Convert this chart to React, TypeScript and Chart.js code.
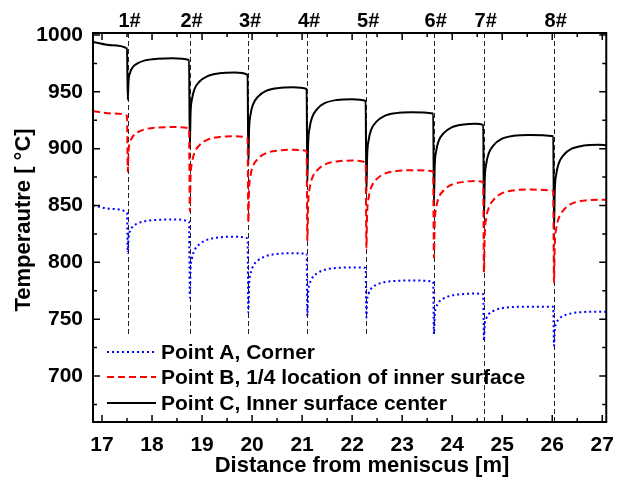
import { useEffect, useRef } from "react";
import { Chart, registerables } from "chart.js";

Chart.register(...registerables);

const distance = [
  16.82, 17.2, 17.5,
  17.515, 17.53, 17.56, 17.61, 17.71, 17.86, 18.11, 18.41, 18.74,
  18.755, 18.77, 18.8, 18.85, 18.95, 19.1, 19.35, 19.65, 19.91,
  19.925, 19.94, 19.97, 20.02, 20.12, 20.27, 20.52, 20.82, 21.09,
  21.105, 21.12, 21.15, 21.2, 21.3, 21.45, 21.7, 22.0, 22.27,
  22.285, 22.3, 22.33, 22.38, 22.48, 22.63, 22.88, 23.18, 23.62,
  23.635, 23.65, 23.68, 23.73, 23.83, 23.98, 24.23, 24.45, 24.62,
  24.635, 24.65, 24.68, 24.73, 24.83, 24.98, 25.23, 25.53, 26.02,
  26.035, 26.05, 26.08, 26.13, 26.23, 26.38, 26.63, 26.93, 27.08,
];

const pointA = [
  850, 847, 843.6,
  808.5, 821.6, 827.5, 831.3, 834.2, 836.2, 837.4, 837.7, 836,
  769, 793.1, 803.8, 810.7, 816.1, 819.8, 822, 822.5, 821,
  756, 779.4, 789.8, 796.6, 801.8, 805.4, 807.5, 808, 807.5,
  753, 772.1, 780.6, 786.2, 790.4, 793.4, 795.1, 795.5, 795,
  751.5, 766.1, 772.6, 776.9, 780.1, 782.4, 783.7, 784, 783,
  737, 753, 760.1, 764.7, 768.2, 770.7, 772.1, 772.5, 772,
  731, 744.5, 750.5, 754.4, 757.4, 759.5, 760.7, 761, 761,
  726.6, 740.1, 746.1, 750, 753, 755.1, 756.3, 756.6, 756.6,
];

const pointB = [
  933, 931, 929,
  880, 897.6, 905.4, 910.4, 914.3, 917.1, 918.6, 919, 918,
  845, 874.7, 887.9, 896.5, 903.1, 907.7, 910.3, 911, 909,
  835, 863.8, 876.6, 884.9, 891.3, 895.8, 898.4, 899, 898,
  819, 850.7, 864.8, 874, 881, 886, 888.8, 889.5, 888,
  812, 843, 856.9, 865.8, 872.7, 877.6, 880.3, 881, 880,
  804, 834.4, 847.9, 856.7, 863.4, 868.1, 870.8, 871.5, 871,
  791, 823.9, 838.5, 847.9, 855.2, 860.4, 863.3, 864, 863,
  782, 814.9, 829.5, 838.9, 846.2, 851.4, 854.3, 855, 855,
];

const pointC = [
  994, 991, 988,
  943, 959.4, 966.7, 971.5, 975.1, 977.7, 979.1, 979.5, 978,
  901, 930.7, 943.9, 952.5, 959.1, 963.7, 966.3, 967, 965,
  886, 916.6, 930.2, 939, 945.8, 950.6, 953.3, 954, 952.5,
  871, 903.7, 918.2, 927.6, 934.9, 940, 942.9, 943.6, 942,
  862, 893.5, 907.5, 916.6, 923.6, 928.5, 931.3, 932, 931,
  853, 884, 897.9, 906.8, 913.7, 918.6, 921.3, 922, 921,
  839, 871.9, 886.5, 895.9, 903.2, 908.4, 911.3, 912, 911,
  829, 862.5, 877.4, 887.1, 894.6, 899.8, 902.8, 903.5, 903,
];

const seriesLabels = [
  "Point A, Corner",
  "Point B, 1/4 location of inner surface",
  "Point C, Inner surface center",
];

const markerPositions = [17.51, 18.75, 19.92, 21.1, 22.28, 23.63, 24.63, 26.03];
const markerLabels = ["1#", "2#", "3#", "4#", "5#", "6#", "7#", "8#"];
const markerLineBottoms = [735, 735, 735, 735, 735, 735, 659.5, 659.5];

const xTickValues = [17, 18, 19, 20, 21, 22, 23, 24, 25, 26, 27];
const yTickValues = [700, 750, 800, 850, 900, 950, 1000];

const X_MIN = 16.82;
const X_MAX = 27.08;
const Y_MIN = 659.5;
const Y_MAX = 1001.8;

const FONT = '"Liberation Sans", Arial, sans-serif';

const toPoints = (ys: number[]) => ys.map((y, i) => ({ x: distance[i], y }));

const decorPlugin = {
  id: "decor",
  beforeDatasetsDraw(chart: any) {
    const { ctx, chartArea, scales } = chart;
    const { x, y } = scales;
    ctx.save();
    ctx.strokeStyle = "#222";
    ctx.lineWidth = 1;
    ctx.setLineDash([5, 3]);
    markerPositions.forEach((m, i) => {
      const px = Math.round(x.getPixelForValue(m)) + 0.5;
      ctx.beginPath();
      ctx.moveTo(px, chartArea.top);
      ctx.lineTo(px, y.getPixelForValue(markerLineBottoms[i]));
      ctx.stroke();
    });
    ctx.restore();
  },
  afterDraw(chart: any) {
    const { ctx, chartArea, scales } = chart;
    const { left, right, top, bottom } = chartArea;
    const { x, y } = scales;
    ctx.save();
    ctx.setLineDash([]);
    ctx.strokeStyle = "#000";

    // ticks (inward, all four sides)
    ctx.lineWidth = 1.5;
    const majorLen = 7;
    const minorLen = 4;
    const xMinor: number[] = [];
    for (let i = 0; i < xTickValues.length - 1; i++) xMinor.push((xTickValues[i] + xTickValues[i + 1]) / 2);
    const yMinor: number[] = [675];
    for (let i = 0; i < yTickValues.length - 1; i++) yMinor.push((yTickValues[i] + yTickValues[i + 1]) / 2);
    const drawX = (v: number, len: number) => {
      const px = x.getPixelForValue(v);
      ctx.beginPath();
      ctx.moveTo(px, bottom);
      ctx.lineTo(px, bottom - len);
      ctx.moveTo(px, top);
      ctx.lineTo(px, top + len);
      ctx.stroke();
    };
    const drawY = (v: number, len: number) => {
      const py = y.getPixelForValue(v);
      ctx.beginPath();
      ctx.moveTo(left, py);
      ctx.lineTo(left + len, py);
      ctx.moveTo(right, py);
      ctx.lineTo(right - len, py);
      ctx.stroke();
    };
    xTickValues.forEach((v) => drawX(v, majorLen));
    xMinor.forEach((v) => drawX(v, minorLen));
    yTickValues.forEach((v) => drawY(v, majorLen));
    yMinor.forEach((v) => drawY(v, minorLen));

    // frame
    ctx.lineWidth = 2;
    ctx.strokeRect(left, top, right - left, bottom - top);

    // marker labels
    ctx.fillStyle = "#000";
    ctx.font = `bold 20px ${FONT}`;
    ctx.textAlign = "center";
    ctx.textBaseline = "middle";
    markerPositions.forEach((m, i) => {
      ctx.fillText(markerLabels[i], x.getPixelForValue(m) + 2, 21);
    });

    // axis titles
    ctx.font = `bold 22px ${FONT}`;
    ctx.fillText("Distance from meniscus [m]", 362, 466);
    ctx.save();
    ctx.translate(24, 220);
    ctx.rotate(-Math.PI / 2);
    ctx.fillText("Temperautre [ °C]", 0, 0);
    ctx.restore();

    // legend
    ctx.font = `bold 21px ${FONT}`;
    ctx.textAlign = "left";
    const rows = [352, 377, 403];
    chart.data.datasets.forEach((ds: any, i: number) => {
      const ry = rows[i];
      ctx.strokeStyle = ds.borderColor;
      ctx.lineWidth = ds.borderWidth;
      ctx.setLineDash(ds.borderDash || []);
      ctx.beginPath();
      ctx.moveTo(107, ry);
      ctx.lineTo(156, ry);
      ctx.stroke();
      ctx.setLineDash([]);
      ctx.fillStyle = "#000";
      ctx.fillText(ds.label, 161, ry + 1);
    });
    ctx.restore();
  },
};

export default function App() {
  const canvasRef = useRef<HTMLCanvasElement | null>(null);

  useEffect(() => {
    if (!canvasRef.current) return;
    const chart = new Chart(canvasRef.current, {
      type: "line",
      data: {
        datasets: [
          {
            label: seriesLabels[0],
            data: toPoints(pointA),
            borderColor: "#0000ff",
            borderWidth: 2,
            borderDash: [2, 3],
            pointRadius: 0,
            cubicInterpolationMode: "monotone",
          },
          {
            label: seriesLabels[1],
            data: toPoints(pointB),
            borderColor: "#ff0000",
            borderWidth: 2,
            borderDash: [7, 4],
            pointRadius: 0,
            cubicInterpolationMode: "monotone",
          },
          {
            label: seriesLabels[2],
            data: toPoints(pointC),
            borderColor: "#000000",
            borderWidth: 2,
            pointRadius: 0,
            cubicInterpolationMode: "monotone",
          },
        ],
      },
      options: {
        animation: false,
        responsive: false,
        maintainAspectRatio: false,
        layout: { padding: { top: 33, right: 7, left: 0, bottom: 0 } },
        plugins: {
          legend: { display: false },
          tooltip: { enabled: false },
        },
        scales: {
          x: {
            type: "linear",
            min: X_MIN,
            max: X_MAX,
            afterBuildTicks: (scale: any) => {
              scale.ticks = xTickValues.map((v) => ({ value: v }));
            },
            afterFit: (scale: any) => {
              scale.height = 60;
            },
            grid: { display: false, drawTicks: false },
            border: { display: false },
            ticks: {
              color: "#000",
              padding: 11,
              maxRotation: 0,
              autoSkip: false,
              callback: (v: any) => String(v),
              font: { family: FONT, size: 21, weight: "bold" },
            },
          },
          y: {
            type: "linear",
            min: Y_MIN,
            max: Y_MAX,
            afterBuildTicks: (scale: any) => {
              scale.ticks = yTickValues.map((v) => ({ value: v }));
            },
            afterFit: (scale: any) => {
              scale.width = 93;
            },
            grid: { display: false, drawTicks: false },
            border: { display: false },
            ticks: {
              color: "#000",
              padding: 10,
              autoSkip: false,
              callback: (v: any) => String(v),
              font: { family: FONT, size: 21, weight: "bold" },
            },
          },
        },
      },
      plugins: [decorPlugin],
    } as any);
    return () => chart.destroy();
  }, []);

  return (
    <div style={{ position: "fixed", left: 0, top: 0, width: 625, height: 482, background: "#fff" }}>
      <canvas ref={canvasRef} width={625} height={482} style={{ width: 625, height: 482, display: "block" }} />
    </div>
  );
}
